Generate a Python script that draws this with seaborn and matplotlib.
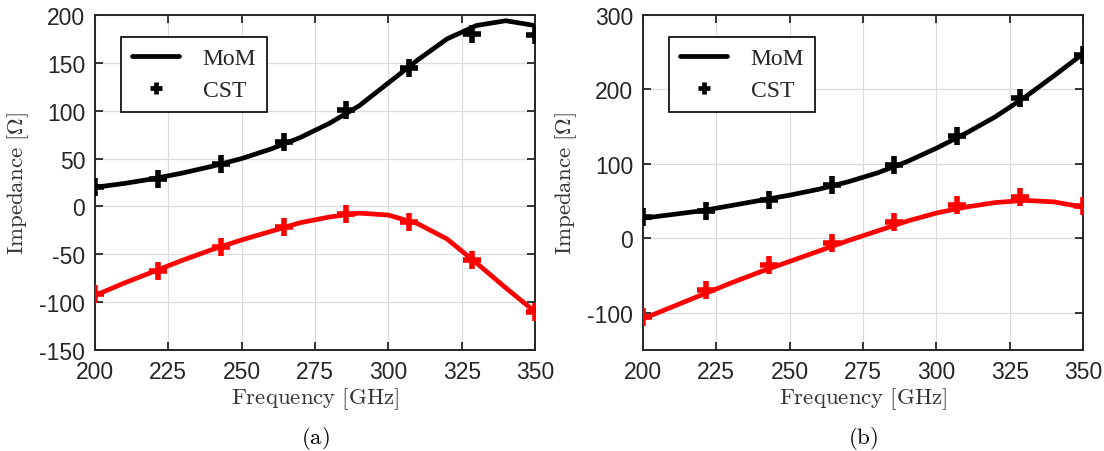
import numpy as np
import pandas as pd
import matplotlib
matplotlib.use("Agg")
import matplotlib.pyplot as plt
from matplotlib.lines import Line2D
import seaborn as sns

# ---- data ----
f_mom = [200, 210, 220, 230, 240, 250, 260, 270, 280, 290, 300, 310, 320, 330, 340, 350]
f_cst = [200, 221.4, 242.9, 264.3, 285.7, 307.1, 328.6, 350]

a_mom_black = [20, 24, 29, 35, 42, 50, 60, 72, 87, 105, 129, 153, 175, 189, 194, 189]
a_mom_red = [-93, -80, -68, -56, -45, -35, -26, -17, -11, -7, -9, -18, -34, -59, -85, -110]
a_cst_black = [20, 29, 44, 67, 101, 145, 180, 179]
a_cst_red = [-92, -67, -42, -21, -8, -16, -56, -110]

b_mom_black = [27, 32, 37, 44, 51, 58, 66, 76, 88, 103, 121, 141, 163, 189, 218, 248]
b_mom_red = [-108, -92, -76, -60, -45, -31, -17, -3, 10, 23, 34, 42, 48, 51, 49, 42]
b_cst_black = [28, 37, 51, 72, 99, 138, 188, 246]
b_cst_red = [-105, -70, -36, -6, 22, 45, 55, 44]

xticks = [200, 225, 250, 275, 300, 325, 350]
a_yticks = [-150, -100, -50, 0, 50, 100, 150, 200]
b_yticks = [-100, 0, 100, 200, 300]
legend_labels = ["MoM", "CST"]
captions = ["(a)", "(b)"]

sns.set_theme(style="whitegrid")
plt.rcParams["mathtext.fontset"] = "cm"
plt.rcParams["font.family"] = ["Liberation Sans", "DejaVu Sans"]

fig = plt.figure(figsize=(11.04, 4.52), dpi=100)
W, H = 1104, 452
axA = fig.add_axes([95 / W, 1 - 351 / H, 440 / W, 335 / H])
axB = fig.add_axes([643 / W, 1 - 351 / H, 440 / W, 335 / H])

panels = [
    (axA, a_mom_black, a_mom_red, a_cst_black, a_cst_red, (-150, 200), a_yticks, captions[0]),
    (axB, b_mom_black, b_mom_red, b_cst_black, b_cst_red, (-150, 300), b_yticks, captions[1]),
]

for ax, mb, mr, cb, cr, ylim, yt, cap in panels:
    sns.lineplot(x=f_mom, y=mb, ax=ax, color="black", linewidth=3.4, zorder=3)
    sns.lineplot(x=f_mom, y=mr, ax=ax, color="red", linewidth=3.4, zorder=3)
    sns.scatterplot(x=f_cst, y=cb, ax=ax, marker="+", s=160, linewidth=4, color="black", zorder=4)
    sns.scatterplot(x=f_cst, y=cr, ax=ax, marker="+", s=160, linewidth=4, color="red", zorder=4)
    ax.set_xlim(200, 350)
    ax.set_ylim(*ylim)
    ax.set_xticks(xticks)
    ax.set_yticks(yt)
    ax.set_xticklabels([str(t) for t in xticks])
    ax.set_yticklabels([str(t) for t in yt])
    ax.set_facecolor("white")
    ax.grid(True, color="#dcdcdc", linewidth=0.9)
    for s in ax.spines.values():
        s.set_visible(True)
        s.set_color("#262626")
        s.set_linewidth(1.4)
    ax.tick_params(direction="in", length=6, width=1.3, color="#262626",
                   top=True, right=True, bottom=True, left=True,
                   labelsize=16.5, labelcolor="#262626", pad=7)
    ax.set_xlabel(r"$\mathrm{Frequency\ [GHz]}$", fontsize=16.5, color="#333333", labelpad=2)
    ax.set_ylabel(r"$\mathrm{Impedance\ [\Omega]}$", fontsize=16.5, color="#333333", labelpad=6)
    ax.text(0.5, -0.26, r"$\mathrm{" + cap + r"}$",
            transform=ax.transAxes, ha="center", va="center", fontsize=16.5, color="black")
    handles = [Line2D([0], [0], color="black", linewidth=3.4),
               Line2D([0], [0], color="black", marker="+", linestyle="None",
                      markersize=9, markeredgewidth=3.4)]
    leg = ax.legend(handles, legend_labels, loc="upper left", bbox_to_anchor=(0.06, 0.935),
                    prop={"family": "Liberation Serif", "size": 17}, frameon=True,
                    fancybox=False, edgecolor="black", framealpha=1, handlelength=2.0,
                    borderpad=0.45, labelspacing=0.45, handletextpad=1.0,
                    borderaxespad=0)
    leg.get_frame().set_linewidth(1.2)

fig.savefig("out.png", dpi=100, facecolor="white")
